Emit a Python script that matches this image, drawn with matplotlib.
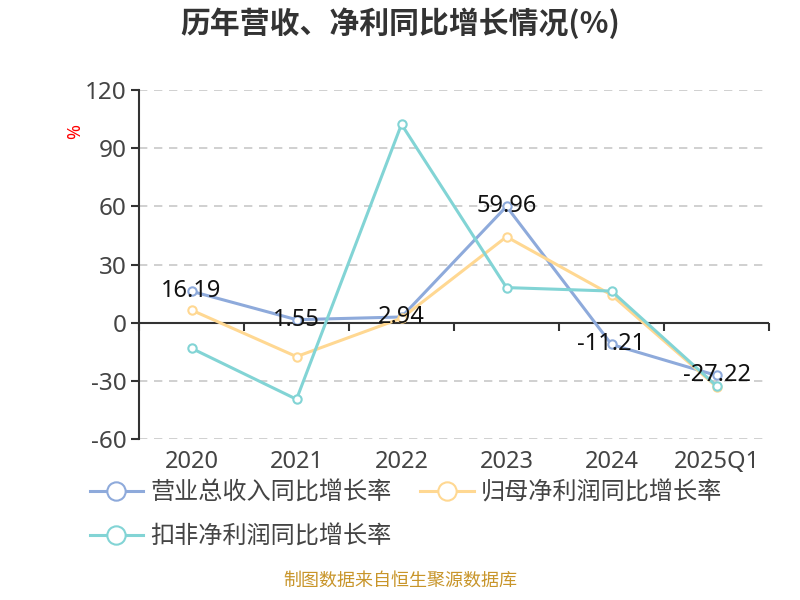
import matplotlib
matplotlib.use("Agg")
import matplotlib.pyplot as plt
import numpy as np

plt.rcParams['font.family'] = ['Noto Sans', 'Noto Sans CJK SC', 'DejaVu Sans']
plt.rcParams['axes.unicode_minus'] = False

# data
years = ["2020", "2021", "2022", "2023", "2024", "2025Q1"]
revenue_growth = [16.19, 1.55, 2.94, 59.96, -11.21, -27.22]
net_profit_growth = [6.5, -17.5, 2.3, 44.3, 14.3, -33.0]
deducted_profit_growth = [-13.2, -39.5, 102.3, 18.1, 16.3, -32.6]

series_names = ["营业总收入同比增长率", "归母净利润同比增长率", "扣非净利润同比增长率"]
colors = ["#8eaadb", "#ffd892", "#82d4d5"]

fig = plt.figure(figsize=(8, 6), dpi=100)
ax = fig.add_axes([0.17375, 0.2683, 0.7875, 0.5817])

x = np.arange(len(years))
handles = []
for vals, name, c in zip([revenue_growth, net_profit_growth, deducted_profit_growth],
                         series_names, colors):
    h, = ax.plot(x, vals, color=c, lw=2.2, marker="o", markersize=6,
                 markerfacecolor="white", markeredgecolor=c, markeredgewidth=1.5,
                 label=name, zorder=3)
    handles.append(h)

# value labels for revenue growth
for xi, v in zip(x, revenue_growth):
    ax.text(xi, v, f"{v:.2f}", ha="center", va="center", fontsize=17,
            color="#111111", zorder=4)

ax.set_xlim(-0.5, len(years) - 0.5)
ax.set_ylim(-60, 120)
ax.set_yticks(np.arange(-60, 121, 30))
ax.tick_params(axis="y", labelsize=17.5, colors="#333333", length=6, width=1.5,
               labelcolor="#444444", pad=3)

# grid lines
for yv in np.arange(-60, 121, 30):
    if yv != 0:
        ax.axhline(yv, color="#c8c8c8", lw=1.2, ls=(0, (5, 4)), zorder=1)
ax.axhline(0, color="#333333", lw=1.5, zorder=2)

# category labels at the bottom
ax.set_xticks(x)
ax.set_xticklabels(years)
ax.tick_params(axis="x", length=0, labelsize=17, labelcolor="#444444", pad=8)

# tick marks on the zero line between categories
sec = ax.secondary_xaxis(60 / 180)
sec.set_xticks(np.arange(-0.5, len(years), 1.0))
sec.set_xticklabels([])
sec.tick_params(axis="x", length=6, width=1.5, color="#333333", direction="out")
sec.spines["bottom"].set_visible(False)

for s in ["top", "right", "bottom"]:
    ax.spines[s].set_visible(False)
ax.spines["left"].set_color("#333333")
ax.spines["left"].set_linewidth(1.5)

# y unit label
fig.text(0.094, 0.781, "%", color="red", fontsize=13, rotation=90,
         ha="center", va="center")

fig.text(0.5, 0.962, "历年营收、净利同比增长情况(%)", ha="center", va="center",
         fontsize=21.5, fontweight="bold", color="#333333",
         family=['Noto Sans CJK SC', 'DejaVu Sans'])

fig.legend([handles[0], handles[2], handles[1]],
           [series_names[0], series_names[2], series_names[1]],
           ncol=2, loc="upper left", bbox_to_anchor=(0.097, 0.218),
           frameon=False, fontsize=17.4, handlelength=2.2, handletextpad=0.3,
           columnspacing=1.2, labelspacing=0.85, markerscale=2.2,
           labelcolor="#444444", borderpad=0)

fig.text(0.5, 0.018, "制图数据来自恒生聚源数据库", ha="center", va="bottom",
         fontsize=13, color="#c8952a")

fig.savefig("out.png", dpi=100)
